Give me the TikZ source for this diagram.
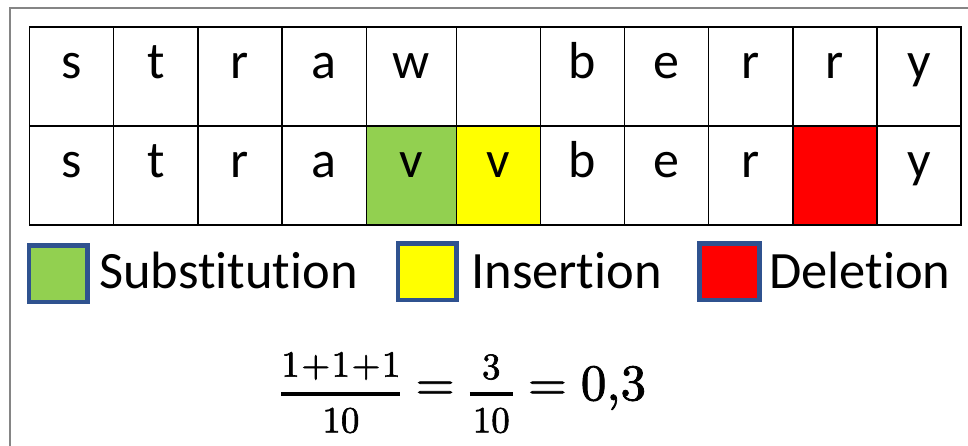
\documentclass[tikz,border=0pt]{standalone}
\usepackage{amsmath}
\usepackage{fontspec}
\newfontfamily\calibri{Carlito}[Ligatures=NoCommon]
\newfontfamily\lmten{lmroman10-regular}[Extension=.otf,FakeBold=1.6]
\definecolor{subgreen}{HTML}{92D050}
\definecolor{insyellow}{HTML}{FFFF00}
\definecolor{delred}{HTML}{FF0000}
\definecolor{legblue}{HTML}{2F528F}
\definecolor{framegray}{HTML}{858585}
\newcommand{\smallnum}[1]{{\lmten\fontsize{37}{42}\selectfont #1}}
\newcommand{\bigeq}{\hspace{14pt}\text{\lmten\fontsize{50}{60}\selectfont =}\hspace{14pt}}
\begin{document}
\begin{tikzpicture}[x=1pt,y=-1pt,
  cell/.style={draw=black,line width=1.8pt,minimum height=99pt,
    inner sep=0pt,font=\calibri\fontsize{52}{60}\selectfont,text height=25pt,text depth=20pt},
  legbox/.style={draw=legblue,line width=4.5pt,inner sep=0pt,minimum height=56.5pt},
  legtext/.style={anchor=base west,inner sep=0pt,font=\calibri\fontsize{52.5}{60}\selectfont}]
\useasboundingbox (0,0) rectangle (968,446);
% outer frame
\coordinate (fb) at (10,446);
\coordinate (ft) at (10,8);
\coordinate (fr) at (968,8);
\draw[framegray,line width=2pt] (fb) -- (ft) -- (fr);
% top row
\foreach \c/\l/\r [count=\i from 0] in {s/29.5/113.5,t/113.5/198,r/198/282,a/282/366.5,w/366.5/456.5,{}/456.5/540.5,b/540.5/624.5,e/624.5/708.5,r/708.5/793,r/793/877,y/877/961}
  \node[cell,minimum width={(\r-\l)*1pt}] (t\i) at ({(\l+\r)/2},76.5) {\c};
% bottom row
\foreach \c/\l/\r/\f [count=\i from 0] in {s/29.5/113.5/white,t/113.5/198/white,r/198/282/white,a/282/366.5/white,v/366.5/456.5/subgreen,v/456.5/540.5/insyellow,b/540.5/624.5/white,e/624.5/708.5/white,r/708.5/793/white,{}/793/877/delred,y/877/961/white}
  \node[cell,fill=\f,minimum width={(\r-\l)*1pt}] (b\i) at ({(\l+\r)/2},175.5) {\c};
% redraw borders on top of fills
\foreach \l/\r [count=\i from 0] in {29.5/113.5,113.5/198,198/282,282/366.5,366.5/456.5,456.5/540.5,540.5/624.5,624.5/708.5,708.5/793,793/877,877/961}
  \node[cell,fill=none,minimum width={(\r-\l)*1pt}] at (b\i) {};
% legend
\node[legbox,fill=subgreen,minimum width=58.5pt] (lg) at (58.4,273.6) {};
\node[legtext] (lgt) at (99,288) {Substitution};
\node[legbox,fill=insyellow,minimum width=58.5pt] (ly) at (427.4,271.7) {};
\node[legtext] (lyt) at (471,288) {Insertion};
\node[legbox,fill=delred,minimum width=60pt] (lr) at (729.4,271.5) {};
\node[legtext] (lrt) at (769,288) {Deletion};
% formula
\node[anchor=base west,inner sep=0pt,font=\lmten\fontsize{50}{60}\selectfont] (f) at (280,400)
 {$\genfrac{}{}{4pt}{0}{\raisebox{-4pt}{\smallnum{1\kern1.5pt+\kern1.5pt1\kern1.5pt+\kern1.5pt1}}}{\raisebox{7pt}{\smallnum{10}}}
   \bigeq \genfrac{}{}{4pt}{0}{\raisebox{-9pt}{\smallnum{\kern3pt 3\kern3pt}}}{\raisebox{7pt}{\smallnum{\kern3pt 10\kern3pt}}}
   \bigeq \text{\lmten\fontsize{51}{60}\selectfont 0,3}$};
\end{tikzpicture}
\end{document}
